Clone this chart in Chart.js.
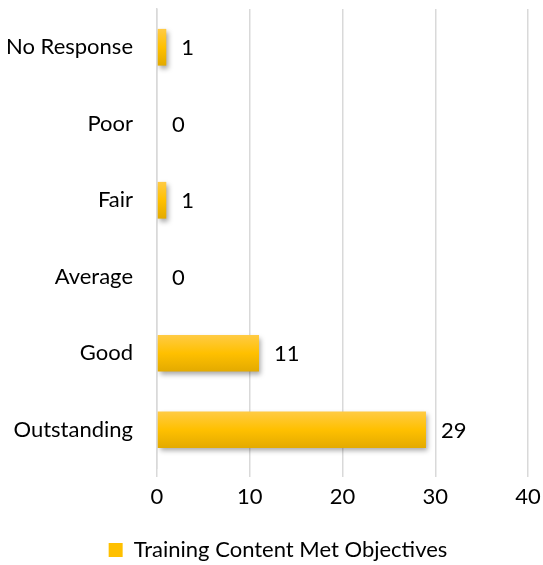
<!DOCTYPE html>
<html>
<head>
<meta charset="utf-8">
<script src="https://cdn.jsdelivr.net/npm/chart.js@4"></script>
<style>
  html, body { margin: 0; padding: 0; background: #fff; }
  #wrap { width: 543px; height: 565px; }
</style>
</head>
<body>
<div id="wrap"><canvas id="chart" width="543" height="565"></canvas></div>
<script>
// Ratings, top to bottom, and number of responses for each
const categories = ['No Response', 'Poor', 'Fair', 'Average', 'Good', 'Outstanding'];
const responses = [1, 0, 1, 0, 11, 29];
const xTicks = [0, 10, 20, 30, 40];
const seriesName = 'Training Content Met Objectives';

const FONT = "Lato, 'Open Sans', sans-serif";
const FONT_SIZE = 22;
const BAR_PCT = 0.48;

// vertical gold gradient across each bar
function barFill(context) {
  const chart = context.chart;
  const y = chart.scales && chart.scales.y;
  if (!y || context.dataIndex === undefined || !chart.chartArea) return '#FFC000';
  const center = y.getPixelForValue(context.dataIndex);
  const half = (y.height / categories.length) * BAR_PCT / 2;
  const g = chart.ctx.createLinearGradient(0, center - half, 0, center + half);
  g.addColorStop(0, '#FFCB45');
  g.addColorStop(0.5, '#FFC000');
  g.addColorStop(1, '#E3AA00');
  return g;
}

// category labels are wider than the y axis box; let them run to the canvas edge
const wideLabels = {
  id: 'wideLabels',
  afterLayout(chart) {
    const y = chart.scales.y;
    y.left = 0;
    y.width = y.right;
  }
};

// soft drop shadow under the bars
const barShadow = {
  id: 'barShadow',
  beforeDatasetsDraw(chart) {
    const ctx = chart.ctx;
    ctx.save();
    ctx.shadowColor = 'rgba(0,0,0,0.35)';
    ctx.shadowBlur = 5;
    ctx.shadowOffsetX = 2;
    ctx.shadowOffsetY = 3;
  },
  afterDatasetsDraw(chart) {
    chart.ctx.restore();
  }
};

// value labels to the right of each bar
const valueLabels = {
  id: 'valueLabels',
  afterDatasetsDraw(chart) {
    const ctx = chart.ctx;
    const meta = chart.getDatasetMeta(0);
    ctx.save();
    ctx.font = FONT_SIZE + 'px ' + FONT;
    ctx.fillStyle = '#000';
    ctx.textAlign = 'left';
    ctx.textBaseline = 'middle';
    meta.data.forEach((bar, i) => {
      const x = chart.scales.x.getPixelForValue(responses[i]);
      ctx.fillText(String(responses[i]), x + 15, bar.y + 1);
    });
    ctx.restore();
  }
};

new Chart(document.getElementById('chart'), {
  type: 'bar',
  data: {
    labels: categories,
    datasets: [{
      label: seriesName,
      data: responses,
      backgroundColor: barFill,
      borderWidth: 0,
      categoryPercentage: 1,
      barPercentage: BAR_PCT
    }]
  },
  options: {
    indexAxis: 'y',
    responsive: false,
    devicePixelRatio: 1,
    animation: false,
    layout: { padding: { top: 9, right: 15, left: 28, bottom: -6 } },
    scales: {
      x: {
        min: 0,
        max: 40,
        afterBuildTicks(axis) { axis.ticks = xTicks.map(v => ({ value: v })); },
        afterFit(scale) { scale.paddingLeft = 0; scale.paddingRight = 0; scale.height = 51; },
        grid: { color: '#D9D9D9', lineWidth: 1.5, tickLength: 9 },
        border: { display: false },
        ticks: { color: '#000', font: { family: FONT, size: FONT_SIZE }, padding: 7 }
      },
      y: {
        afterFit(scale) { scale.paddingTop = 0; scale.paddingBottom = 0; scale.width = 129; },
        grid: { display: false, drawTicks: false },
        border: { display: true, color: '#D9D9D9', width: 1.5 },
        ticks: { color: '#000', font: { family: FONT, size: FONT_SIZE }, padding: 24 }
      }
    },
    plugins: {
      legend: {
        position: 'bottom',
        labels: {
          color: '#000',
          font: { family: FONT, size: FONT_SIZE },
          boxWidth: 14,
          boxHeight: 14,
          padding: 20,
          generateLabels() {
            return [{ text: seriesName, fillStyle: '#FFC000', strokeStyle: '#FFC000', lineWidth: 0, datasetIndex: 0 }];
          }
        }
      },
      tooltip: { enabled: false }
    }
  },
  plugins: [wideLabels, barShadow, valueLabels]
});
</script>
</body>
</html>
